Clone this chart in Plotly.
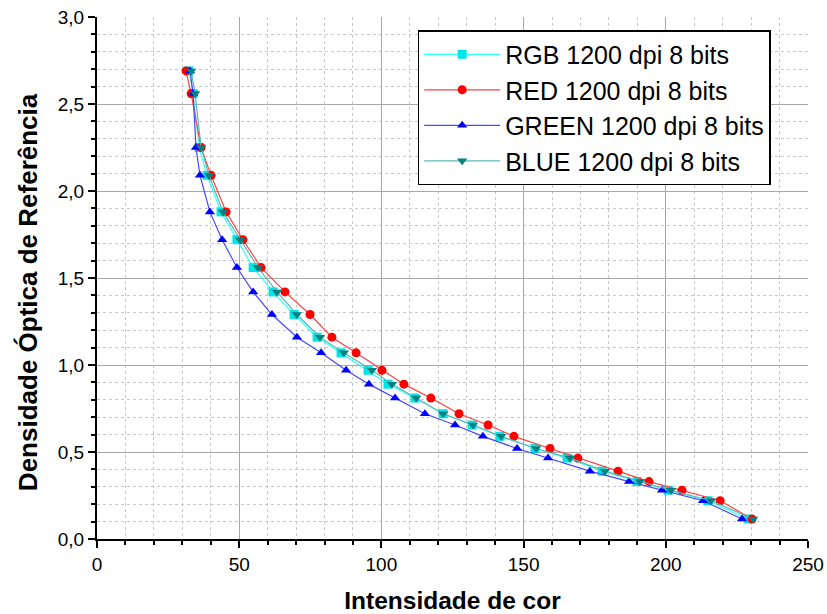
import plotly.graph_objects as go

density = [2.69, 2.56, 2.25, 2.09, 1.88, 1.72, 1.56, 1.42, 1.29, 1.16, 1.07, 0.97,
           0.89, 0.81, 0.72, 0.655, 0.59, 0.52, 0.465, 0.39, 0.33, 0.28, 0.22, 0.115]

rgb_x = [32.3, 33.8, 35.9, 38.7, 43.6, 49.2, 54.9, 61.9, 69.3, 77.4, 85.8, 95.3,
         102.3, 111.8, 121.7, 131.9, 141.7, 154.0, 165.3, 177.6, 189.9, 200.8, 214.8, 228.9]
red_x = [31.3, 33.1, 36.6, 40.1, 45.4, 51.3, 57.7, 66.1, 74.9, 82.6, 91.1, 100.2,
         107.9, 117.4, 127.3, 137.5, 146.6, 159.3, 169.1, 183.2, 194.1, 205.7, 219.1, 230.3]
green_x = [32.7, 33.8, 34.8, 36.2, 39.7, 44.0, 49.2, 54.9, 61.5, 70.3, 78.8, 87.6,
           95.6, 104.8, 115.3, 125.9, 135.7, 147.7, 158.6, 173.3, 187.1, 198.7, 213.1, 226.8]
blue_x = [33.1, 34.5, 36.6, 39.4, 44.3, 50.3, 56.6, 63.3, 70.3, 78.4, 86.8, 96.7,
          103.7, 112.2, 121.7, 132.2, 142.1, 154.4, 166.3, 178.6, 190.9, 201.8, 215.9, 230.7]

names = ["RGB 1200 dpi 8 bits", "RED 1200 dpi 8 bits",
         "GREEN 1200 dpi 8 bits", "BLUE 1200 dpi 8 bits"]
x_title = "Intensidade de cor"
y_title = "Densidade Óptica de Referência"

fig = go.Figure()
series = [
    (rgb_x, names[0], "#33FFFF", "#00E5E5", "square"),
    (red_x, names[1], "#FF4040", "#FF0000", "circle"),
    (green_x, names[2], "#4848FF", "#0000FF", "triangle-up"),
    (blue_x, names[3], "#5CB8B4", "#008080", "triangle-down"),
]
for xs, nm, lc, mc, sym in series:
    fig.add_trace(go.Scatter(
        x=xs, y=density, name=nm, mode="lines+markers",
        line=dict(color=lc, width=1.2),
        marker=dict(symbol=sym, size=9, color=mc, line=dict(width=0)),
    ))

fig.update_layout(
    width=827, height=614,
    margin=dict(l=97, r=19, t=17, b=75),
    paper_bgcolor="white", plot_bgcolor="white",
    separators=",.",
    font=dict(family="Liberation Sans, Arial, sans-serif", color="black"),
    legend=dict(
        x=0.451, y=0.975, xanchor="left", yanchor="top",
        bgcolor="white", bordercolor="black", borderwidth=1.5,
        font=dict(size=25, family="Liberation Sans, Arial, sans-serif"),
        itemwidth=76, tracegroupgap=0,
    ),
    showlegend=True,
    annotations=[dict(
        text="<b>" + y_title + "</b>", textangle=-90,
        xref="paper", yref="paper", x=-0.097, y=0.473,
        xanchor="center", yanchor="middle", showarrow=False,
        font=dict(size=26),
    )],
)

fig.update_xaxes(
    range=[0, 250], dtick=50, tick0=0, automargin=False,
    showline=True, linecolor="black", linewidth=2,
    ticks="outside", ticklen=7, tickwidth=1.5, tickcolor="black",
    tickfont=dict(size=19),
    showgrid=True, gridcolor="#A8A8A8", gridwidth=1,
    zeroline=False,
    minor=dict(dtick=10, showgrid=True, gridcolor="#C8C8C8", griddash="dot",
               ticks="outside", ticklen=4, tickcolor="black"),
    title=dict(text="<b>" + x_title + "</b>", font=dict(size=24.5), standoff=25),
)
fig.update_yaxes(
    range=[0, 3.0], dtick=0.5, tick0=0, tickformat=".1f", automargin=False,
    showline=True, linecolor="black", linewidth=2,
    ticks="outside", ticklen=7, tickwidth=1.5, tickcolor="black",
    tickfont=dict(size=19),
    showgrid=True, gridcolor="#A8A8A8", gridwidth=1,
    zeroline=False,
    minor=dict(dtick=0.1, showgrid=True, gridcolor="#C8C8C8", griddash="dot",
               ticks="outside", ticklen=4, tickcolor="black"),
)

fig.write_html("out.html", config={"displayModeBar": False},
               post_script="document.body.style.margin='0';")
